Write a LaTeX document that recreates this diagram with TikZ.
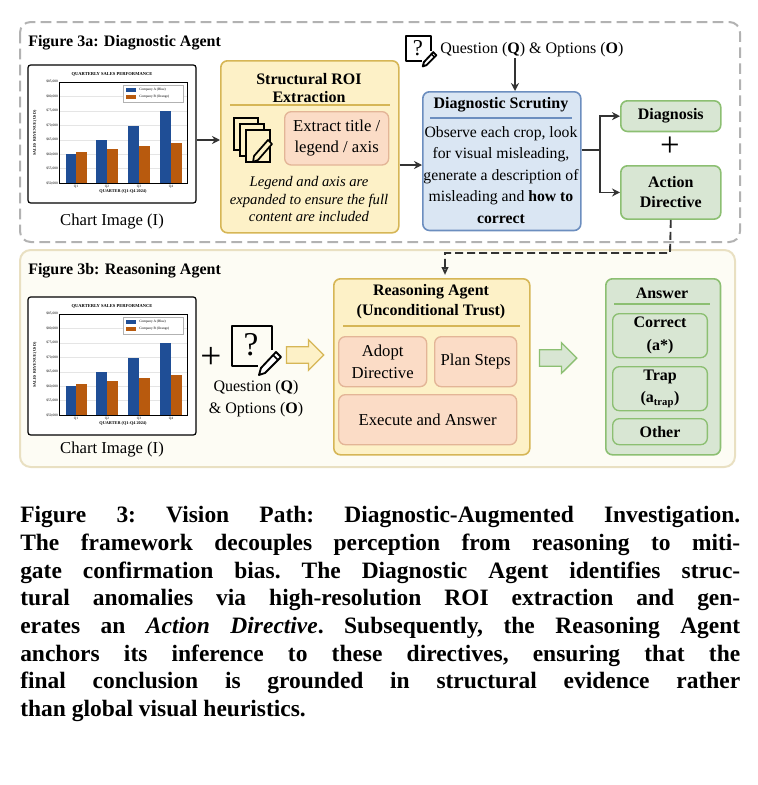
\documentclass[tikz,border=0pt]{standalone}
\usepackage{fontspec}
\setmainfont{Liberation Serif}
\usetikzlibrary{arrows.meta,shapes.arrows}
\definecolor{yfill}{HTML}{FDF1C7}\definecolor{ybord}{HTML}{D6B656}
\definecolor{pfill}{HTML}{FBDCC6}\definecolor{pbord}{HTML}{E3B597}
\definecolor{bfill}{HTML}{DAE6F3}\definecolor{bbord}{HTML}{6C8EBF}
\definecolor{gfill}{HTML}{D8E6D3}\definecolor{gbord}{HTML}{8CBF72}
\definecolor{cream}{HTML}{FDFCF4}\definecolor{beige}{HTML}{E9E0C2}
\definecolor{cblue}{HTML}{1F4E96}\definecolor{corange}{HTML}{B85A0E}
\tikzset{
 box/.style={draw, rounded corners=5pt, line width=1.2pt},
 ybox/.style={box, fill=yfill, draw=ybord},
 pbox/.style={box, fill=pfill, draw=pbord, line width=1pt},
 bbox/.style={box, fill=bfill, draw=bbord},
 gbox/.style={box, fill=gfill, draw=gbord},
 txt/.style={font=\fontsize{12}{15}\selectfont, align=center, inner sep=0pt},
 btxt/.style={txt, font=\fontsize{12}{15}\selectfont\bfseries},
 arr/.style={-{Stealth[length=6pt,width=6pt]}, line width=1.1pt, draw=black!80},
 fat/.style={single arrow, minimum height=28pt, minimum width=23pt, single arrow head extend=3pt, inner sep=3pt, line width=1pt},
 tiny/.style={font=\fontsize{2.6}{3}\selectfont, inner sep=0pt}
}
\newcommand{\mychart}[2]{%
\begin{scope}[shift={(#1,#2)}]
 \draw[rounded corners=2pt, line width=0.9pt, fill=white] (28,65) rectangle (196,203);
 \node[tiny,font=\fontsize{3.4}{4}\selectfont\bfseries] at (112,74) {QUARTERLY SALES PERFORMANCE};
 \foreach \i/\l in {0/\$85{,}000,1/\$80{,}000,2/\$75{,}000,3/\$70{,}000,4/\$65{,}000,5/\$60{,}000,6/\$55{,}000,7/\$50{,}000}{
   \draw[black!10,line width=0.2pt] (59,82+14.43*\i) -- (187,82+14.43*\i);
   \node[tiny,anchor=east] at (58,82+14.43*\i) {\l};}
 \draw[line width=0.3pt] (59,82) rectangle (187,183.3);
 \foreach \a/\b/\t in {66/76/154.3, 96/107/140, 128/139/125.7, 160/171/111}{\fill[cblue] (\a,\t) rectangle (\b,183.3);}
 \foreach \a/\b/\t in {76/87/151.7, 107/118/148.7, 139/150/146, 171/182/143}{\fill[corange] (\a,\t) rectangle (\b,183.3);}
 \foreach \x/\q in {76/Q1,107/Q2,139/Q3,171/Q4}{\node[tiny] at (\x,186.5) {\q};}
 \node[tiny,font=\fontsize{3.2}{4}\selectfont\bfseries] at (123,191) {QUARTER (Q1-Q4 2024)};
 \node[tiny,font=\fontsize{3}{4}\selectfont\bfseries,rotate=90] at (35,133) {SALES REVENUE (USD)};
 \draw[black!30,line width=0.2pt,fill=white] (123,85) rectangle (183,102);
 \fill[cblue] (126,88) rectangle (136,92); \node[tiny,anchor=west] at (139,90) {Company A (Blue)};
 \fill[corange] (126,95) rectangle (136,99); \node[tiny,anchor=west] at (139,97) {Company B (Orange)};
\end{scope}}
\newcommand{\qicon}[4]{% x y scale fontsize
\begin{scope}[shift={(#1,#2)},scale=#3]
 \draw[line width=1.6pt,line join=round] (40,24) -- (40,0) -- (0,0) -- (0,40) -- (26,40);
 \node[font=\fontsize{#4}{#4}\selectfont,inner sep=0pt] at (19,19) {?};
 \draw[line width=1.4pt,line join=round,fill=white] (44,26) -- (49,31) -- (33,47) -- (27,49) -- (29,42) -- cycle;
 \draw[line width=1.1pt] (41,29) -- (46,34);
\end{scope}}
\begin{document}
\begin{tikzpicture}[x=0.75pt,y=-0.75pt]
\useasboundingbox[fill=white] (0,0) rectangle (757,785);
% top frame
\draw[black!30, dashed, dash pattern=on 8pt off 4pt, line width=1.5pt, rounded corners=8pt] (20,22) rectangle (740,242);
\node[btxt,anchor=west] at (28,43) {Figure 3a: Diagnostic Agent};
\mychart{0}{0}
\node[txt, font=\fontsize{12.5}{15}\selectfont] (ci1) at (112,222) {Chart Image (I)};
\coordinate (c1r) at (197,140);
% ROI box
\node[ybox, minimum width=133.5pt, minimum height=129pt, anchor=north west] (roi) at (220,60) {};
\node[btxt, font=\fontsize{12}{13}\selectfont\bfseries] at (309,88) {Structural ROI\\Extraction};
\draw[ybord, line width=1pt] (230,105) -- (390,105);
\node[pbox, minimum width=78pt, minimum height=40pt, anchor=north west, txt, font=\fontsize{12.5}{16}\selectfont] (ext) at (284,111) {Extract title /\\legend / axis};
\node[txt, font=\fontsize{11}{13.2}\selectfont\itshape] at (309,199) {Legend and axis are\\expanded to ensure the full\\content are included};
% stacked pages icon
\foreach \d in {0,6,12}{\draw[line width=1.3pt,fill=yfill] (234+\d,118+\d) rectangle (258+\d,150+\d);}
\draw[line width=1.3pt,line join=round,fill=yfill] (268,140) -- (272,144) -- (258,160) -- (253,162) -- (254,156) -- cycle;
\draw[arr] (c1r) -- (roi.west|-c1r);
% diagnostic scrutiny
\node[bbox, minimum width=118.5pt, minimum height=104pt, anchor=north west] (ds) at (422,91) {};
\node[btxt] at (501,105) {Diagnostic Scrutiny};
\draw[bbord, line width=1pt] (430,118) -- (572,118);
\node[txt, font=\fontsize{11.8}{16.2}\selectfont] at (501,175) {Observe each crop, look\\for visual misleading,\\generate a description of\\misleading and \textbf{how to}\\\textbf{correct}};
\coordinate (t) at (0,165);
\draw[arr] (roi.east|-t) -- (ds.west|-t);
\qicon{406}{36}{0.62}{17}
\node[txt, anchor=west, font=\fontsize{12}{15}\selectfont] (q1) at (440,50) {Question (\textbf{Q}) \& Options (\textbf{O})};
\coordinate (qa) at (515,58);
\draw[arr] (qa) -- (qa|-ds.north);
% outputs
\node[gbox, minimum width=75pt, minimum height=23pt, btxt, anchor=north west] (diag) at (620,100) {Diagnosis};
\node[gbox, minimum width=75pt, minimum height=40pt, btxt, anchor=north west] (act) at (620,165) {Action\\Directive};
\node[font=\fontsize{26}{26}\selectfont, inner sep=0pt] (plus1) at (670,147) {+};
\coordinate (br) at (600,150);
\draw[line width=1.1pt, draw=black!80] (ds.east|-br) -- (br);
\draw[arr] (br) |- (diag.west);
\draw[arr] (br) |- (act.west);
% bottom frame
\draw[beige, fill=cream, line width=1.5pt, rounded corners=8pt] (20,250) rectangle (735,467);
\node[btxt,anchor=west] at (28,271) {Figure 3b: Reasoning Agent};
\mychart{0}{232}
\node[txt, font=\fontsize{12.5}{15}\selectfont] (ci2) at (112,450) {Chart Image (I)};
\node[font=\fontsize{28}{28}\selectfont, inner sep=0pt] (plus2) at (211,358) {+};
\qicon{232}{326}{1.0}{25}
\node[txt, font=\fontsize{12}{16.5}\selectfont] (q2) at (256,399) {Question (\textbf{Q})\\\& Options (\textbf{O})};
% reasoning
\node[ybox, minimum width=147pt, minimum height=132pt, anchor=north west] (ra) at (333,278) {};
\node[btxt, font=\fontsize{12}{15}\selectfont\bfseries] at (431,302) {Reasoning Agent\\(Unconditional Trust)};
\draw[ybord, line width=1pt] (343,326) -- (520,326);
\node[pbox, minimum width=66pt, minimum height=37.5pt, anchor=north west, txt, font=\fontsize{12.5}{16}\selectfont] (ad) at (338,336) {Adopt\\Directive};
\node[pbox, minimum width=61.5pt, minimum height=37.5pt, anchor=north west, txt, font=\fontsize{12.5}{16}\selectfont] (ps) at (434,336) {Plan Steps};
\node[pbox, minimum width=133.5pt, minimum height=37.5pt, anchor=north west, txt, font=\fontsize{12.5}{16}\selectfont] (ea) at (338,394) {Execute and Answer};
\node[fat, fill=yfill, draw=ybord] (fa1) at (301,355) {};
% dashed connector
\coordinate (dk) at (670,253);
\draw[dashed, dash pattern=on 6pt off 3pt, line width=1.4pt, draw=black!80, -{Triangle[open,length=6pt,width=5pt]}] (act.south) -- (dk) -| (445,275);
% answer
\node[gbox, minimum width=86pt, minimum height=132pt, anchor=north west] (ans) at (605,278) {};
\node[btxt] at (662,293) {Answer};
\draw[gbord, line width=1pt] (614,304) -- (710,304);
\node[gbox, line width=1pt, minimum width=71pt, minimum height=33pt, anchor=north west, btxt, font=\fontsize{12}{17}\selectfont\bfseries] (cor) at (612,313) {Correct\\(a*)};
\node[gbox, line width=1pt, minimum width=71pt, minimum height=33pt, anchor=north west, btxt, font=\fontsize{12}{17}\selectfont\bfseries] (trap) at (612,366) {Trap\\(a\textsubscript{trap})};
\node[gbox, line width=1pt, minimum width=71pt, minimum height=19.5pt, anchor=north west, btxt] (oth) at (612,418) {Other};
\node[fat, fill=gfill, draw=gbord] (fa2) at (554,358) {};
% caption
\node[anchor=north west, inner sep=0pt, align=left, font=\fontsize{17.6}{20.8}\selectfont\bfseries\frenchspacing] (cap) at (20,506) {%
\hbox to 540pt{Figure 3: Vision Path: Diagnostic-Augmented Investigation.}\\
\hbox to 540pt{The framework decouples perception from reasoning to miti-}\\
\hbox to 540pt{gate confirmation bias. The Diagnostic Agent identifies struc-}\\
\hbox to 540pt{tural anomalies via high-resolution ROI extraction and gen-}\\
\hbox to 540pt{erates an \textit{Action Directive}. Subsequently, the Reasoning Agent}\\
\hbox to 540pt{anchors its inference to these directives, ensuring that the}\\
\hbox to 540pt{final conclusion is grounded in structural evidence rather}\\
than global visual heuristics.};
\end{tikzpicture}
\end{document}
